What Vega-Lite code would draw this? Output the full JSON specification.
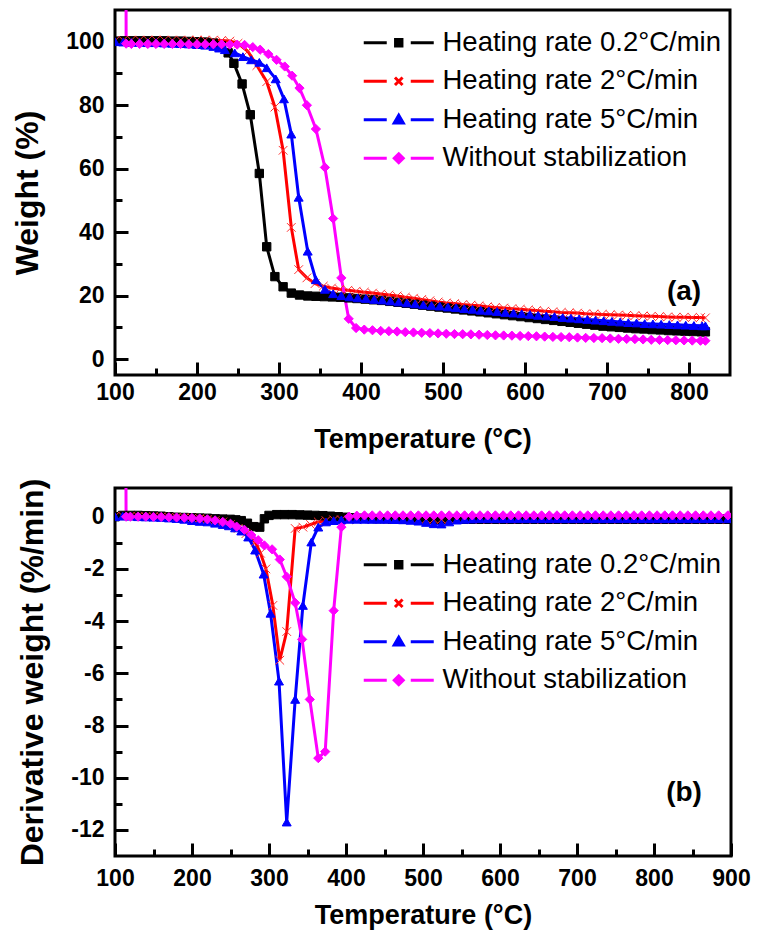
{
  "$schema": "https://vega.github.io/schema/vega-lite/v6.json",
  "padding": {"left": 10, "top": 8, "right": 5, "bottom": 5},
  "config": {
    "font": "Liberation Sans",
    "view": {"stroke": "black", "strokeWidth": 3},
    "axis": {
      "domain": false, "grid": false, "labelFlush": false, "labelOverlap": false,
      "labelFont": "Liberation Sans", "labelFontWeight": "bold", "labelFontSize": 23, "labelColor": "black",
      "titleFont": "Liberation Sans", "titleFontWeight": "bold", "titleColor": "black",
      "tickColor": "black", "tickWidth": 3
    },
    "legend": {
      "orient": "none", "title": null, "padding": 0, "labelLimit": 600,
      "labelFont": "Liberation Sans", "labelFontSize": 27.5, "labelColor": "black",
      "symbolSize": 400, "symbolOpacity": 1, "labelOffset": 30, "rowPadding": 9.5
    }
  },
  "datasets": {
    "tga": [
      {"s":"A","t":100,"v":100.2},{"s":"A","t":110,"v":100.3},{"s":"A","t":120,"v":100.3},{"s":"A","t":130,"v":100.3},{"s":"A","t":140,"v":100.3},{"s":"A","t":150,"v":100.3},{"s":"A","t":160,"v":100.3},{"s":"A","t":170,"v":100.2},{"s":"A","t":180,"v":100.2},{"s":"A","t":190,"v":100.1},{"s":"A","t":200,"v":100.0},{"s":"A","t":210,"v":99.9},{"s":"A","t":220,"v":99.6},{"s":"A","t":230,"v":98.7},{"s":"A","t":238,"v":96.5},{"s":"A","t":245,"v":93.2},{"s":"A","t":255,"v":86.7},{"s":"A","t":265,"v":77},{"s":"A","t":276,"v":58.5},{"s":"A","t":285,"v":35.4},{"s":"A","t":295,"v":26},{"s":"A","t":305,"v":22.8},{"s":"A","t":315,"v":20.8},{"s":"A","t":325,"v":20.2},{"s":"A","t":335,"v":19.9},{"s":"A","t":345,"v":19.8},{"s":"A","t":355,"v":19.7},{"s":"A","t":365,"v":19.6},{"s":"A","t":375,"v":19.5},{"s":"A","t":385,"v":19.3},{"s":"A","t":395,"v":19.1},{"s":"A","t":405,"v":18.9},{"s":"A","t":415,"v":18.7},{"s":"A","t":425,"v":18.5},{"s":"A","t":435,"v":18.2},{"s":"A","t":445,"v":17.9},{"s":"A","t":455,"v":17.6},{"s":"A","t":465,"v":17.3},{"s":"A","t":475,"v":17.0},{"s":"A","t":485,"v":16.7},{"s":"A","t":495,"v":16.4},{"s":"A","t":505,"v":16.1},{"s":"A","t":515,"v":15.8},{"s":"A","t":525,"v":15.5},{"s":"A","t":535,"v":15.2},{"s":"A","t":545,"v":14.9},{"s":"A","t":555,"v":14.6},{"s":"A","t":565,"v":14.3},{"s":"A","t":575,"v":14.0},{"s":"A","t":585,"v":13.7},{"s":"A","t":595,"v":13.4},{"s":"A","t":605,"v":13.1},{"s":"A","t":615,"v":12.8},{"s":"A","t":625,"v":12.5},{"s":"A","t":635,"v":12.2},{"s":"A","t":645,"v":11.9},{"s":"A","t":655,"v":11.6},{"s":"A","t":665,"v":11.3},{"s":"A","t":675,"v":11.0},{"s":"A","t":685,"v":10.7},{"s":"A","t":695,"v":10.4},{"s":"A","t":705,"v":10.2},{"s":"A","t":715,"v":10.0},{"s":"A","t":725,"v":9.8},{"s":"A","t":735,"v":9.6},{"s":"A","t":745,"v":9.5},{"s":"A","t":755,"v":9.3},{"s":"A","t":765,"v":9.2},{"s":"A","t":775,"v":9.0},{"s":"A","t":785,"v":8.9},{"s":"A","t":795,"v":8.8},{"s":"A","t":805,"v":8.7},{"s":"A","t":815,"v":8.6},{"s":"A","t":820,"v":8.6},
      {"s":"B","t":100,"v":100.3},{"s":"B","t":110,"v":100.4},{"s":"B","t":120,"v":100.5},{"s":"B","t":130,"v":100.5},{"s":"B","t":140,"v":100.5},{"s":"B","t":150,"v":100.5},{"s":"B","t":160,"v":100.5},{"s":"B","t":170,"v":100.5},{"s":"B","t":180,"v":100.5},{"s":"B","t":190,"v":100.5},{"s":"B","t":200,"v":100.5},{"s":"B","t":210,"v":100.5},{"s":"B","t":220,"v":100.5},{"s":"B","t":230,"v":100.4},{"s":"B","t":240,"v":100.2},{"s":"B","t":250,"v":99.5},{"s":"B","t":262,"v":97},{"s":"B","t":273,"v":92.5},{"s":"B","t":285,"v":87.4},{"s":"B","t":295,"v":79.4},{"s":"B","t":305,"v":65.8},{"s":"B","t":315,"v":41.5},{"s":"B","t":324,"v":28.2},{"s":"B","t":334,"v":25.6},{"s":"B","t":344,"v":23.8},{"s":"B","t":354,"v":23.0},{"s":"B","t":364,"v":22.4},{"s":"B","t":374,"v":22.0},{"s":"B","t":384,"v":21.7},{"s":"B","t":394,"v":21.4},{"s":"B","t":404,"v":21.1},{"s":"B","t":414,"v":20.8},{"s":"B","t":424,"v":20.5},{"s":"B","t":434,"v":20.2},{"s":"B","t":444,"v":19.9},{"s":"B","t":454,"v":19.5},{"s":"B","t":464,"v":19.2},{"s":"B","t":474,"v":18.8},{"s":"B","t":484,"v":18.4},{"s":"B","t":494,"v":18.0},{"s":"B","t":504,"v":17.7},{"s":"B","t":514,"v":17.5},{"s":"B","t":524,"v":17.2},{"s":"B","t":534,"v":17.0},{"s":"B","t":544,"v":16.8},{"s":"B","t":554,"v":16.5},{"s":"B","t":564,"v":16.3},{"s":"B","t":574,"v":16.1},{"s":"B","t":584,"v":15.9},{"s":"B","t":594,"v":15.7},{"s":"B","t":604,"v":15.5},{"s":"B","t":614,"v":15.3},{"s":"B","t":624,"v":15.1},{"s":"B","t":634,"v":14.9},{"s":"B","t":644,"v":14.7},{"s":"B","t":654,"v":14.6},{"s":"B","t":664,"v":14.5},{"s":"B","t":674,"v":14.3},{"s":"B","t":684,"v":14.2},{"s":"B","t":694,"v":14.1},{"s":"B","t":704,"v":14.0},{"s":"B","t":714,"v":13.9},{"s":"B","t":724,"v":13.8},{"s":"B","t":734,"v":13.7},{"s":"B","t":744,"v":13.6},{"s":"B","t":754,"v":13.5},{"s":"B","t":764,"v":13.4},{"s":"B","t":774,"v":13.3},{"s":"B","t":784,"v":13.2},{"s":"B","t":794,"v":13.2},{"s":"B","t":804,"v":13.1},{"s":"B","t":814,"v":13.1},{"s":"B","t":820,"v":13.0},
      {"s":"C","t":100,"v":100},{"s":"C","t":110,"v":99.9},{"s":"C","t":120,"v":99.8},{"s":"C","t":130,"v":99.8},{"s":"C","t":140,"v":99.7},{"s":"C","t":150,"v":99.7},{"s":"C","t":160,"v":99.6},{"s":"C","t":170,"v":99.5},{"s":"C","t":180,"v":99.4},{"s":"C","t":190,"v":99.3},{"s":"C","t":200,"v":99.1},{"s":"C","t":210,"v":98.9},{"s":"C","t":220,"v":98.5},{"s":"C","t":227,"v":98.0},{"s":"C","t":234,"v":97.5},{"s":"C","t":246,"v":96.5},{"s":"C","t":256,"v":95.3},{"s":"C","t":266,"v":94.3},{"s":"C","t":276,"v":93.5},{"s":"C","t":285,"v":91.8},{"s":"C","t":296,"v":88.3},{"s":"C","t":306,"v":82},{"s":"C","t":315,"v":70.9},{"s":"C","t":324,"v":51},{"s":"C","t":335,"v":34},{"s":"C","t":345,"v":25},{"s":"C","t":356,"v":22},{"s":"C","t":366,"v":20.6},{"s":"C","t":376,"v":20.0},{"s":"C","t":386,"v":19.6},{"s":"C","t":396,"v":19.3},{"s":"C","t":406,"v":19.1},{"s":"C","t":416,"v":18.8},{"s":"C","t":426,"v":18.6},{"s":"C","t":436,"v":18.3},{"s":"C","t":446,"v":18.0},{"s":"C","t":456,"v":17.7},{"s":"C","t":466,"v":17.4},{"s":"C","t":476,"v":17.1},{"s":"C","t":486,"v":16.9},{"s":"C","t":496,"v":16.7},{"s":"C","t":506,"v":16.4},{"s":"C","t":516,"v":16.2},{"s":"C","t":526,"v":15.9},{"s":"C","t":536,"v":15.7},{"s":"C","t":546,"v":15.4},{"s":"C","t":556,"v":15.2},{"s":"C","t":566,"v":15.0},{"s":"C","t":576,"v":14.7},{"s":"C","t":586,"v":14.5},{"s":"C","t":596,"v":14.3},{"s":"C","t":606,"v":14.1},{"s":"C","t":616,"v":13.8},{"s":"C","t":626,"v":13.6},{"s":"C","t":636,"v":13.4},{"s":"C","t":646,"v":13.1},{"s":"C","t":656,"v":12.9},{"s":"C","t":666,"v":12.7},{"s":"C","t":676,"v":12.5},{"s":"C","t":686,"v":12.3},{"s":"C","t":696,"v":12.1},{"s":"C","t":706,"v":11.9},{"s":"C","t":716,"v":11.7},{"s":"C","t":726,"v":11.5},{"s":"C","t":736,"v":11.4},{"s":"C","t":746,"v":11.2},{"s":"C","t":756,"v":11.1},{"s":"C","t":766,"v":11.0},{"s":"C","t":776,"v":10.9},{"s":"C","t":786,"v":10.8},{"s":"C","t":796,"v":10.7},{"s":"C","t":806,"v":10.6},{"s":"C","t":816,"v":10.5},{"s":"C","t":820,"v":10.5},
      {"s":"D","t":113.3,"v":130},{"s":"D","t":113.6,"v":99.4},{"s":"D","t":120,"v":99.3},{"s":"D","t":130,"v":99.3},{"s":"D","t":140,"v":99.3},{"s":"D","t":150,"v":99.3},{"s":"D","t":160,"v":99.3},{"s":"D","t":170,"v":99.3},{"s":"D","t":180,"v":99.3},{"s":"D","t":190,"v":99.2},{"s":"D","t":200,"v":99.2},{"s":"D","t":210,"v":99.2},{"s":"D","t":220,"v":99.2},{"s":"D","t":230,"v":99.2},{"s":"D","t":240,"v":99.1},{"s":"D","t":249,"v":99.1},{"s":"D","t":258,"v":99.0},{"s":"D","t":268,"v":98.3},{"s":"D","t":277,"v":97.5},{"s":"D","t":287,"v":96.1},{"s":"D","t":297,"v":94.3},{"s":"D","t":307,"v":92.2},{"s":"D","t":316,"v":89.3},{"s":"D","t":325,"v":85.4},{"s":"D","t":334,"v":80.0},{"s":"D","t":345,"v":72.5},{"s":"D","t":356,"v":60.4},{"s":"D","t":366,"v":44.3},{"s":"D","t":376,"v":25.6},{"s":"D","t":385,"v":12.7},{"s":"D","t":394,"v":9.8},{"s":"D","t":404,"v":9.3},{"s":"D","t":414,"v":9.1},{"s":"D","t":424,"v":8.9},{"s":"D","t":434,"v":8.8},{"s":"D","t":444,"v":8.7},{"s":"D","t":454,"v":8.5},{"s":"D","t":464,"v":8.4},{"s":"D","t":474,"v":8.3},{"s":"D","t":484,"v":8.2},{"s":"D","t":494,"v":8.1},{"s":"D","t":504,"v":8.0},{"s":"D","t":514,"v":7.9},{"s":"D","t":524,"v":7.85},{"s":"D","t":534,"v":7.8},{"s":"D","t":544,"v":7.7},{"s":"D","t":554,"v":7.6},{"s":"D","t":564,"v":7.5},{"s":"D","t":574,"v":7.45},{"s":"D","t":584,"v":7.4},{"s":"D","t":594,"v":7.3},{"s":"D","t":604,"v":7.25},{"s":"D","t":614,"v":7.2},{"s":"D","t":624,"v":7.1},{"s":"D","t":634,"v":7.0},{"s":"D","t":644,"v":6.95},{"s":"D","t":654,"v":6.9},{"s":"D","t":664,"v":6.8},{"s":"D","t":674,"v":6.7},{"s":"D","t":684,"v":6.65},{"s":"D","t":694,"v":6.6},{"s":"D","t":704,"v":6.5},{"s":"D","t":714,"v":6.4},{"s":"D","t":724,"v":6.35},{"s":"D","t":734,"v":6.3},{"s":"D","t":744,"v":6.2},{"s":"D","t":754,"v":6.1},{"s":"D","t":764,"v":6.05},{"s":"D","t":774,"v":6.0},{"s":"D","t":784,"v":5.95},{"s":"D","t":794,"v":5.9},{"s":"D","t":804,"v":5.85},{"s":"D","t":814,"v":5.8},{"s":"D","t":820,"v":5.8}
    ],
    "dtg": [
      {"s":"A","t":100,"v":0.0},{"s":"A","t":110,"v":0.05},{"s":"A","t":120,"v":0.05},{"s":"A","t":130,"v":0.05},{"s":"A","t":140,"v":0.04},{"s":"A","t":150,"v":0.03},{"s":"A","t":160,"v":0.02},{"s":"A","t":170,"v":0.0},{"s":"A","t":180,"v":-0.02},{"s":"A","t":190,"v":-0.03},{"s":"A","t":200,"v":-0.04},{"s":"A","t":210,"v":-0.05},{"s":"A","t":220,"v":-0.06},{"s":"A","t":230,"v":-0.08},{"s":"A","t":240,"v":-0.09},{"s":"A","t":250,"v":-0.1},{"s":"A","t":257,"v":-0.12},{"s":"A","t":264,"v":-0.15},{"s":"A","t":272,"v":-0.25},{"s":"A","t":280,"v":-0.38},{"s":"A","t":288,"v":-0.4},{"s":"A","t":294,"v":-0.08},{"s":"A","t":300,"v":0.05},{"s":"A","t":310,"v":0.08},{"s":"A","t":320,"v":0.08},{"s":"A","t":330,"v":0.08},{"s":"A","t":340,"v":0.07},{"s":"A","t":350,"v":0.06},{"s":"A","t":360,"v":0.05},{"s":"A","t":370,"v":0.04},{"s":"A","t":380,"v":0.02},{"s":"A","t":390,"v":0.0},{"s":"A","t":400,"v":-0.02},{"s":"A","t":410,"v":-0.04},{"s":"A","t":420,"v":-0.06},{"s":"A","t":430,"v":-0.07},{"s":"A","t":440,"v":-0.08},{"s":"A","t":450,"v":-0.08},{"s":"A","t":460,"v":-0.09},{"s":"A","t":470,"v":-0.09},{"s":"A","t":480,"v":-0.1},{"s":"A","t":490,"v":-0.1},{"s":"A","t":500,"v":-0.1},{"s":"A","t":510,"v":-0.1},{"s":"A","t":520,"v":-0.1},{"s":"A","t":530,"v":-0.1},{"s":"A","t":540,"v":-0.1},{"s":"A","t":550,"v":-0.1},{"s":"A","t":560,"v":-0.1},{"s":"A","t":570,"v":-0.1},{"s":"A","t":580,"v":-0.1},{"s":"A","t":590,"v":-0.1},{"s":"A","t":600,"v":-0.1},{"s":"A","t":610,"v":-0.1},{"s":"A","t":620,"v":-0.1},{"s":"A","t":630,"v":-0.1},{"s":"A","t":640,"v":-0.1},{"s":"A","t":650,"v":-0.1},{"s":"A","t":660,"v":-0.1},{"s":"A","t":670,"v":-0.1},{"s":"A","t":680,"v":-0.1},{"s":"A","t":690,"v":-0.1},{"s":"A","t":700,"v":-0.1},{"s":"A","t":710,"v":-0.1},{"s":"A","t":720,"v":-0.1},{"s":"A","t":730,"v":-0.1},{"s":"A","t":740,"v":-0.1},{"s":"A","t":750,"v":-0.1},{"s":"A","t":760,"v":-0.1},{"s":"A","t":770,"v":-0.1},{"s":"A","t":780,"v":-0.1},{"s":"A","t":790,"v":-0.1},{"s":"A","t":800,"v":-0.1},{"s":"A","t":810,"v":-0.1},{"s":"A","t":820,"v":-0.1},{"s":"A","t":830,"v":-0.1},{"s":"A","t":840,"v":-0.1},{"s":"A","t":850,"v":-0.1},{"s":"A","t":860,"v":-0.1},{"s":"A","t":870,"v":-0.1},{"s":"A","t":880,"v":-0.1},{"s":"A","t":890,"v":-0.1},{"s":"A","t":896,"v":-0.1},
      {"s":"B","t":100,"v":0.02},{"s":"B","t":110,"v":0.02},{"s":"B","t":120,"v":0.02},{"s":"B","t":130,"v":0.01},{"s":"B","t":140,"v":0.0},{"s":"B","t":150,"v":0.0},{"s":"B","t":160,"v":-0.01},{"s":"B","t":170,"v":-0.02},{"s":"B","t":180,"v":-0.03},{"s":"B","t":190,"v":-0.04},{"s":"B","t":200,"v":-0.05},{"s":"B","t":210,"v":-0.07},{"s":"B","t":220,"v":-0.1},{"s":"B","t":230,"v":-0.15},{"s":"B","t":240,"v":-0.2},{"s":"B","t":250,"v":-0.3},{"s":"B","t":260,"v":-0.45},{"s":"B","t":270,"v":-0.65},{"s":"B","t":282,"v":-0.97},{"s":"B","t":289,"v":-1.4},{"s":"B","t":296,"v":-2.0},{"s":"B","t":305,"v":-3.4},{"s":"B","t":314,"v":-5.5},{"s":"B","t":323,"v":-4.4},{"s":"B","t":334,"v":-0.45},{"s":"B","t":344,"v":-0.4},{"s":"B","t":354,"v":-0.3},{"s":"B","t":364,"v":-0.2},{"s":"B","t":374,"v":-0.15},{"s":"B","t":384,"v":-0.12},{"s":"B","t":394,"v":-0.12},{"s":"B","t":404,"v":-0.11},{"s":"B","t":414,"v":-0.11},{"s":"B","t":424,"v":-0.1},{"s":"B","t":434,"v":-0.1},{"s":"B","t":444,"v":-0.1},{"s":"B","t":454,"v":-0.1},{"s":"B","t":464,"v":-0.1},{"s":"B","t":474,"v":-0.1},{"s":"B","t":484,"v":-0.1},{"s":"B","t":494,"v":-0.1},{"s":"B","t":504,"v":-0.1},{"s":"B","t":514,"v":-0.1},{"s":"B","t":524,"v":-0.1},{"s":"B","t":534,"v":-0.1},{"s":"B","t":544,"v":-0.1},{"s":"B","t":554,"v":-0.1},{"s":"B","t":564,"v":-0.1},{"s":"B","t":574,"v":-0.1},{"s":"B","t":584,"v":-0.1},{"s":"B","t":594,"v":-0.1},{"s":"B","t":604,"v":-0.1},{"s":"B","t":614,"v":-0.1},{"s":"B","t":624,"v":-0.1},{"s":"B","t":634,"v":-0.1},{"s":"B","t":644,"v":-0.1},{"s":"B","t":654,"v":-0.1},{"s":"B","t":664,"v":-0.1},{"s":"B","t":674,"v":-0.1},{"s":"B","t":684,"v":-0.1},{"s":"B","t":694,"v":-0.1},{"s":"B","t":704,"v":-0.1},{"s":"B","t":714,"v":-0.1},{"s":"B","t":724,"v":-0.1},{"s":"B","t":734,"v":-0.1},{"s":"B","t":744,"v":-0.1},{"s":"B","t":754,"v":-0.1},{"s":"B","t":764,"v":-0.1},{"s":"B","t":774,"v":-0.1},{"s":"B","t":784,"v":-0.1},{"s":"B","t":794,"v":-0.1},{"s":"B","t":804,"v":-0.1},{"s":"B","t":814,"v":-0.1},{"s":"B","t":824,"v":-0.1},{"s":"B","t":834,"v":-0.1},{"s":"B","t":844,"v":-0.1},{"s":"B","t":854,"v":-0.1},{"s":"B","t":864,"v":-0.1},{"s":"B","t":874,"v":-0.1},{"s":"B","t":884,"v":-0.1},{"s":"B","t":896,"v":-0.1},
      {"s":"C","t":100,"v":0.0},{"s":"C","t":110,"v":0.02},{"s":"C","t":120,"v":0.02},{"s":"C","t":130,"v":0.0},{"s":"C","t":140,"v":-0.01},{"s":"C","t":150,"v":-0.02},{"s":"C","t":160,"v":-0.03},{"s":"C","t":170,"v":-0.05},{"s":"C","t":180,"v":-0.07},{"s":"C","t":190,"v":-0.1},{"s":"C","t":200,"v":-0.15},{"s":"C","t":210,"v":-0.18},{"s":"C","t":220,"v":-0.2},{"s":"C","t":230,"v":-0.25},{"s":"C","t":240,"v":-0.3},{"s":"C","t":248,"v":-0.35},{"s":"C","t":256,"v":-0.43},{"s":"C","t":264,"v":-0.55},{"s":"C","t":273,"v":-0.78},{"s":"C","t":282,"v":-1.28},{"s":"C","t":293,"v":-2.2},{"s":"C","t":302,"v":-3.7},{"s":"C","t":313,"v":-6.3},{"s":"C","t":323,"v":-11.7},{"s":"C","t":334,"v":-7.0},{"s":"C","t":344,"v":-3.4},{"s":"C","t":355,"v":-0.97},{"s":"C","t":364,"v":-0.4},{"s":"C","t":374,"v":-0.2},{"s":"C","t":384,"v":-0.15},{"s":"C","t":394,"v":-0.12},{"s":"C","t":404,"v":-0.1},{"s":"C","t":414,"v":-0.1},{"s":"C","t":424,"v":-0.1},{"s":"C","t":434,"v":-0.1},{"s":"C","t":444,"v":-0.1},{"s":"C","t":454,"v":-0.1},{"s":"C","t":464,"v":-0.11},{"s":"C","t":474,"v":-0.12},{"s":"C","t":484,"v":-0.14},{"s":"C","t":494,"v":-0.17},{"s":"C","t":504,"v":-0.22},{"s":"C","t":514,"v":-0.27},{"s":"C","t":524,"v":-0.28},{"s":"C","t":534,"v":-0.2},{"s":"C","t":544,"v":-0.13},{"s":"C","t":554,"v":-0.1},{"s":"C","t":564,"v":-0.09},{"s":"C","t":574,"v":-0.08},{"s":"C","t":584,"v":-0.08},{"s":"C","t":594,"v":-0.08},{"s":"C","t":604,"v":-0.08},{"s":"C","t":614,"v":-0.08},{"s":"C","t":624,"v":-0.08},{"s":"C","t":634,"v":-0.08},{"s":"C","t":644,"v":-0.08},{"s":"C","t":654,"v":-0.08},{"s":"C","t":664,"v":-0.08},{"s":"C","t":674,"v":-0.08},{"s":"C","t":684,"v":-0.08},{"s":"C","t":694,"v":-0.08},{"s":"C","t":704,"v":-0.08},{"s":"C","t":714,"v":-0.08},{"s":"C","t":724,"v":-0.08},{"s":"C","t":734,"v":-0.08},{"s":"C","t":744,"v":-0.08},{"s":"C","t":754,"v":-0.08},{"s":"C","t":764,"v":-0.08},{"s":"C","t":774,"v":-0.08},{"s":"C","t":784,"v":-0.08},{"s":"C","t":794,"v":-0.08},{"s":"C","t":804,"v":-0.08},{"s":"C","t":814,"v":-0.08},{"s":"C","t":824,"v":-0.08},{"s":"C","t":834,"v":-0.08},{"s":"C","t":844,"v":-0.08},{"s":"C","t":854,"v":-0.08},{"s":"C","t":864,"v":-0.08},{"s":"C","t":874,"v":-0.08},{"s":"C","t":884,"v":-0.08},{"s":"C","t":896,"v":-0.08},
      {"s":"D","t":114,"v":3.0},{"s":"D","t":114.4,"v":0.0},{"s":"D","t":120,"v":0.0},{"s":"D","t":130,"v":0.0},{"s":"D","t":140,"v":0.0},{"s":"D","t":150,"v":-0.01},{"s":"D","t":160,"v":-0.01},{"s":"D","t":170,"v":-0.02},{"s":"D","t":180,"v":-0.03},{"s":"D","t":190,"v":-0.04},{"s":"D","t":200,"v":-0.05},{"s":"D","t":210,"v":-0.07},{"s":"D","t":220,"v":-0.1},{"s":"D","t":230,"v":-0.14},{"s":"D","t":240,"v":-0.2},{"s":"D","t":250,"v":-0.27},{"s":"D","t":258,"v":-0.38},{"s":"D","t":268,"v":-0.5},{"s":"D","t":277,"v":-0.7},{"s":"D","t":286,"v":-0.9},{"s":"D","t":294,"v":-1.1},{"s":"D","t":304,"v":-1.25},{"s":"D","t":314,"v":-1.64},{"s":"D","t":323,"v":-2.3},{"s":"D","t":334,"v":-3.3},{"s":"D","t":343,"v":-4.7},{"s":"D","t":353,"v":-7.0},{"s":"D","t":364,"v":-9.25},{"s":"D","t":373,"v":-9.0},{"s":"D","t":384,"v":-3.6},{"s":"D","t":394,"v":-0.4},{"s":"D","t":404,"v":0.0},{"s":"D","t":414,"v":0.04},{"s":"D","t":424,"v":0.05},{"s":"D","t":434,"v":0.05},{"s":"D","t":444,"v":0.05},{"s":"D","t":454,"v":0.05},{"s":"D","t":464,"v":0.05},{"s":"D","t":474,"v":0.05},{"s":"D","t":484,"v":0.05},{"s":"D","t":494,"v":0.05},{"s":"D","t":504,"v":0.05},{"s":"D","t":514,"v":0.05},{"s":"D","t":524,"v":0.05},{"s":"D","t":534,"v":0.05},{"s":"D","t":544,"v":0.05},{"s":"D","t":554,"v":0.05},{"s":"D","t":564,"v":0.05},{"s":"D","t":574,"v":0.05},{"s":"D","t":584,"v":0.05},{"s":"D","t":594,"v":0.05},{"s":"D","t":604,"v":0.05},{"s":"D","t":614,"v":0.05},{"s":"D","t":624,"v":0.05},{"s":"D","t":634,"v":0.05},{"s":"D","t":644,"v":0.05},{"s":"D","t":654,"v":0.05},{"s":"D","t":664,"v":0.05},{"s":"D","t":674,"v":0.05},{"s":"D","t":684,"v":0.05},{"s":"D","t":694,"v":0.05},{"s":"D","t":704,"v":0.05},{"s":"D","t":714,"v":0.05},{"s":"D","t":724,"v":0.05},{"s":"D","t":734,"v":0.05},{"s":"D","t":744,"v":0.05},{"s":"D","t":754,"v":0.05},{"s":"D","t":764,"v":0.05},{"s":"D","t":774,"v":0.05},{"s":"D","t":784,"v":0.05},{"s":"D","t":794,"v":0.05},{"s":"D","t":804,"v":0.05},{"s":"D","t":814,"v":0.05},{"s":"D","t":824,"v":0.05},{"s":"D","t":834,"v":0.05},{"s":"D","t":844,"v":0.05},{"s":"D","t":854,"v":0.05},{"s":"D","t":864,"v":0.05},{"s":"D","t":874,"v":0.05},{"s":"D","t":884,"v":0.05},{"s":"D","t":896,"v":0.05}
    ]
  },
  "vconcat": [
    {
      "width": 615, "height": 365,
      "data": {"name": "tga"},
      "encoding": {
        "x": {"field": "t", "type": "quantitative", "scale": {"domain": [100, 850], "nice": false, "zero": false},
          "axis": {"title": "Temperature (°C)", "titleFontSize": 27, "values": [100,150,200,250,300,350,400,450,500,550,600,650,700,750,800],
            "labelExpr": "datum.value % 100 === 0 ? '' + datum.value : ''", "tickSize": {"condition": {"test": "datum.value % 100 === 0", "value": -13}, "value": -7},
            "labelPadding": 19, "titlePadding": 16}},
        "y": {"field": "v", "type": "quantitative", "scale": {"domain": [-5, 110], "nice": false, "zero": false},
          "axis": {"title": "Weight (%)", "titleFontSize": 32, "values": [0,10,20,30,40,50,60,70,80,90,100],
            "labelExpr": "datum.value % 20 === 0 ? '' + datum.value : ''", "tickSize": {"condition": {"test": "datum.value % 20 === 0", "value": -13}, "value": -7},
            "labelPadding": 24, "titlePadding": 21}}
      },
      "layer": [
        {"mark": {"type": "line", "strokeWidth": 3, "clip": true},
         "encoding": {
           "color": {"field": "s", "type": "nominal", "scale": {"domain": ["A","B","C","D"], "range": ["#000000","#ff0000","#0000ff","#ff00ff"]},
             "legend": {"legendX": 270, "legendY": 19,
               "labelExpr": "datum.value === 'A' ? 'Heating rate 0.2°C/min' : datum.value === 'B' ? 'Heating rate 2°C/min' : datum.value === 'C' ? 'Heating rate 5°C/min' : 'Without stabilization'",
               "encode": {"symbols": {"update": {
                 "shape": {"signal": "datum.value === 'A' ? 'M-3.5,0L-1.2,0M-0.32,-0.32L0.32,-0.32L0.32,0.32L-0.32,0.32ZM1.2,0L3.5,0' : datum.value === 'B' ? 'M-3.5,0L-1.2,0M-0.38,-0.38L0.38,0.38M-0.38,0.38L0.38,-0.38M1.2,0L3.5,0' : datum.value === 'C' ? 'M-3.5,0L-1.2,0M0,-0.45L0.45,0.32L-0.45,0.32ZM1.2,0L3.5,0' : 'M-3.5,0L-1.2,0M0,-0.45L0.45,0L0,0.45L-0.45,0ZM1.2,0L3.5,0'"},
                 "strokeWidth": {"value": 3}, "opacity": {"value": 1}, "fillOpacity": {"value": 1}
               }}}}}
         }},
        {"mark": {"type": "point", "filled": true, "strokeWidth": 1, "opacity": 1, "clip": true},
         "encoding": {
           "color": {"field": "s", "type": "nominal", "scale": {"domain": ["A","B","C","D"], "range": ["#000000","#ff0000","#0000ff","#ff00ff"]}},
           "stroke": {"field": "s", "type": "nominal", "scale": {"domain": ["A","B","C","D","Z"], "range": ["#000000","#ff3030","#0000ff","#ff00ff","#000000"]}, "legend": null},
           "shape": {"field": "s", "type": "nominal", "scale": {"domain": ["A","B","C","D","Z"], "range": ["square","M-1,-1L1,1M-1,1L1,-1","triangle-up","diamond","circle"]}, "legend": null},
           "size": {"field": "s", "type": "nominal", "scale": {"domain": ["A","B","C","D","Z"], "range": [70,90,110,120,50]}, "legend": null}
         }},
        {"transform": [{"filter": "datum.s === 'A' && datum.t === 100"}],
         "mark": {"type": "text", "font": "Liberation Sans", "fontWeight": "bold", "fontSize": 28, "fill": "black"},
         "encoding": {"x": {"datum": 794}, "y": {"datum": 21}, "text": {"value": "(a)"}}}
      ]
    },
    {
      "width": 616, "height": 368,
      "data": {"name": "dtg"},
      "encoding": {
        "x": {"field": "t", "type": "quantitative", "scale": {"domain": [100, 900], "nice": false, "zero": false},
          "axis": {"title": "Temperature (°C)", "titleFontSize": 27, "values": [100,150,200,250,300,350,400,450,500,550,600,650,700,750,800,850,900],
            "labelExpr": "datum.value % 100 === 0 ? '' + datum.value : ''", "tickSize": {"condition": {"test": "datum.value % 100 === 0", "value": -13}, "value": -7},
            "labelPadding": 24, "titlePadding": 6}},
        "y": {"field": "v", "type": "quantitative", "scale": {"domain": [-13, 1.1], "nice": false, "zero": false},
          "axis": {"title": "Derivative weight (%/min)", "titleFontSize": 32, "values": [-12,-11,-10,-9,-8,-7,-6,-5,-4,-3,-2,-1,0],
            "labelExpr": "datum.value % 2 === 0 ? '' + datum.value : ''", "tickSize": {"condition": {"test": "datum.value % 2 === 0", "value": -13}, "value": -7},
            "labelPadding": 24, "titlePadding": 21}}
      },
      "layer": [
        {"mark": {"type": "line", "strokeWidth": 3, "clip": true},
         "encoding": {
           "color": {"field": "s", "type": "nominal", "scale": {"domain": ["A","B","C","D"], "range": ["#000000","#ff0000","#0000ff","#ff00ff"]},
             "legend": {"legendX": 270, "legendY": 63,
               "labelExpr": "datum.value === 'A' ? 'Heating rate 0.2°C/min' : datum.value === 'B' ? 'Heating rate 2°C/min' : datum.value === 'C' ? 'Heating rate 5°C/min' : 'Without stabilization'",
               "encode": {"symbols": {"update": {
                 "shape": {"signal": "datum.value === 'A' ? 'M-3.5,0L-1.2,0M-0.32,-0.32L0.32,-0.32L0.32,0.32L-0.32,0.32ZM1.2,0L3.5,0' : datum.value === 'B' ? 'M-3.5,0L-1.2,0M-0.38,-0.38L0.38,0.38M-0.38,0.38L0.38,-0.38M1.2,0L3.5,0' : datum.value === 'C' ? 'M-3.5,0L-1.2,0M0,-0.45L0.45,0.32L-0.45,0.32ZM1.2,0L3.5,0' : 'M-3.5,0L-1.2,0M0,-0.45L0.45,0L0,0.45L-0.45,0ZM1.2,0L3.5,0'"},
                 "strokeWidth": {"value": 3}, "opacity": {"value": 1}, "fillOpacity": {"value": 1}
               }}}}}
         }},
        {"mark": {"type": "point", "filled": true, "strokeWidth": 1, "opacity": 1, "clip": true},
         "encoding": {
           "color": {"field": "s", "type": "nominal", "scale": {"domain": ["A","B","C","D"], "range": ["#000000","#ff0000","#0000ff","#ff00ff"]}},
           "stroke": {"field": "s", "type": "nominal", "scale": {"domain": ["A","B","C","D","Z"], "range": ["#000000","#ff3030","#0000ff","#ff00ff","#000000"]}, "legend": null},
           "shape": {"field": "s", "type": "nominal", "scale": {"domain": ["A","B","C","D","Z"], "range": ["square","M-1,-1L1,1M-1,1L1,-1","triangle-up","diamond","circle"]}, "legend": null},
           "size": {"field": "s", "type": "nominal", "scale": {"domain": ["A","B","C","D","Z"], "range": [70,90,110,120,50]}, "legend": null}
         }},
        {"transform": [{"filter": "datum.s === 'A' && datum.t === 100"}],
         "mark": {"type": "text", "font": "Liberation Sans", "fontWeight": "bold", "fontSize": 28, "fill": "black"},
         "encoding": {"x": {"datum": 839}, "y": {"datum": -10.6}, "text": {"value": "(b)"}}}
      ]
    }
  ],
  "spacing": 113,
  "bounds": "flush",
  "resolve": {"scale": {"color": "independent", "stroke": "independent", "shape": "independent", "size": "independent"}, "legend": {"color": "independent"}}
}
